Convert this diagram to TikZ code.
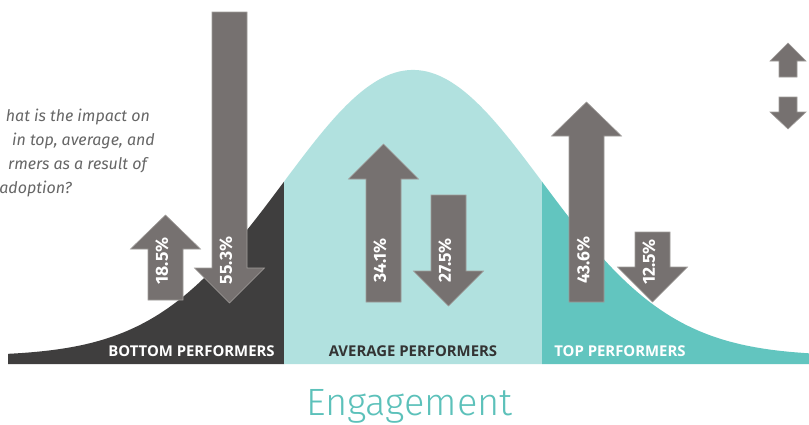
\documentclass[tikz,border=0pt]{standalone}
\usepackage{fontspec}
\setmainfont{Fira Sans}
\newfontfamily\lightfont{Fira Sans}[UprightFont=* Light, ItalicFont=* Light Italic]
\newfontfamily\bandfont{Open Sans}
\definecolor{darkband}{HTML}{3F3E3E}
\definecolor{lightteal}{HTML}{B1E1DF}
\definecolor{teal}{HTML}{62C5BF}
\definecolor{arrowgray}{HTML}{767170}
\definecolor{arrowedge}{HTML}{A09C9A}
\definecolor{qgray}{HTML}{666666}
\definecolor{engteal}{HTML}{5CC1BA}
\definecolor{avgtext}{HTML}{333333}
\tikzset{
  bigarrow/.style={fill=arrowgray, draw=arrowedge, line width=0.6pt},
  pct/.style={rotate=90, text=white, font=\fontsize{17.5}{17.5}\selectfont\bfseries, inner sep=0pt},
  band/.style={font=\bandfont\fontsize{14.9}{14.9}\selectfont\bfseries, inner sep=0pt},
  question/.style={text=qgray, font=\fontsize{16}{16}\selectfont\itshape, inner sep=0pt, anchor=base east}
}
\newcommand{\bell}[1]{356-286*exp(-((#1-413)/100)^2/3.36)}
% up arrow: center x, tip y, head base y, bottom y, shaft half, head half
\newcommand{\uparrowpath}[6]{%
  \draw[bigarrow] ({#1-#5},#4) -- ({#1-#5},#3) -- ({#1-#6},#3) -- (#1,#2) -- ({#1+#6},#3) -- ({#1+#5},#3) -- ({#1+#5},#4) -- cycle;}
% down arrow: center x, top y, head base y, tip y, shaft half, head half
\newcommand{\downarrowpath}[6]{%
  \draw[bigarrow] ({#1-#5},#2) -- ({#1-#5},#3) -- ({#1-#6},#3) -- (#1,#4) -- ({#1+#6},#3) -- ({#1+#5},#3) -- ({#1+#5},#2) -- cycle;}
\begin{document}
\begin{tikzpicture}[x=1pt, y=-1pt]
\useasboundingbox (0,0) rectangle (809,424);
\fill[white] (0,0) rectangle (809,424);
% bell regions
\fill[darkband] (8,364) -- plot[domain=8:284, samples=80, smooth] (\x, {\bell{\x}}) -- (284,364) -- cycle;
\fill[lightteal] (284,364) -- plot[domain=284:542, samples=100, smooth] (\x, {\bell{\x}}) -- (542,364) -- cycle;
\fill[teal] (542,364) -- plot[domain=542:809, samples=80, smooth] (\x, {\bell{\x}}) -- (809,364) -- cycle;
% question text
\node[question] (q1) at (150,121) {hat is the impact on};
\node[question] (q2) at (155,145) {in top, average, and};
\node[question] (q3) at (147,169) {rmers as a result of};
\node[question] (q4) at (72,193) {adoption?};
% arrows
\uparrowpath{165.5}{215}{249}{300}{17.5}{35}
\downarrowpath{229.5}{12}{268}{303}{17.5}{35}
\uparrowpath{383.5}{144}{179}{302}{17.5}{35}
\downarrowpath{448.5}{195}{271}{306}{17.5}{35}
\uparrowpath{586.5}{102}{136}{302}{17.5}{35}
\downarrowpath{652.5}{232}{267}{302}{17.5}{35}
\uparrowpath{788}{43}{61}{77}{9}{18}
\downarrowpath{788}{97}{112}{129}{9}{18}
% percentage labels
\node[pct] (p1) at (162,261) {18.5\%};
\node[pct] (p2) at (226,260.5) {55.3\%};
\node[pct] (p3) at (380,260.5) {34.1\%};
\node[pct] (p4) at (445,260.5) {27.5\%};
\node[pct] (p5) at (583.5,260) {43.6\%};
\node[pct] (p6) at (649,262) {12.5\%};
% band labels
\node[band, text=white] (bot) at (191.5,351) {BOTTOM PERFORMERS};
\node[band, text=avgtext] (avg) at (413,351) {AVERAGE PERFORMERS};
\node[band, text=white] (top) at (620,351) {TOP PERFORMERS};
% axis title
\node[text=engteal, font=\lightfont\fontsize{38}{38}\selectfont, inner sep=0pt, anchor=base] (eng) at (409.5,415) {Engagement};
\end{tikzpicture}
\end{document}
